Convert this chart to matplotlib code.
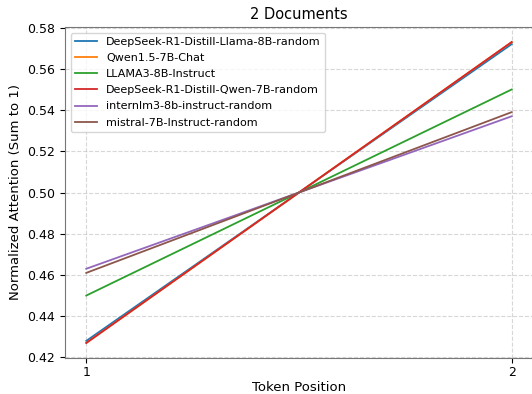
import numpy as np
import matplotlib.pyplot as plt

positions = [1, 2]
models = ["DeepSeek-R1-Distill-Llama-8B-random",
          "Qwen1.5-7B-Chat",
          "LLAMA3-8B-Instruct",
          "DeepSeek-R1-Distill-Qwen-7B-random",
          "internlm3-8b-instruct-random",
          "mistral-7B-Instruct-random"]
first_pos = [0.428, 0.427, 0.450, 0.427, 0.463, 0.461]
second_pos = [0.572, 0.573, 0.550, 0.573, 0.537, 0.539]

fig = plt.figure(figsize=(5.32, 3.94), dpi=100)
ax = fig.add_axes([65/532, 36/394, 468/532, 331/394])

for name, a, b in zip(models, first_pos, second_pos):
    ax.plot(positions, [a, b], label=name, linewidth=1.3)

ax.set_xticks(positions)
ax.tick_params(labelsize=9)
ax.tick_params(axis="x", pad=2.5)
ax.set_title("2 Documents", fontsize=10.5)
ax.set_xlabel("Token Position", fontsize=9.5, labelpad=1)
ax.set_ylabel("Normalized Attention (Sum to 1)", fontsize=9.5)
ax.grid(True, linestyle="--", alpha=0.5)
for s in ax.spines.values():
    s.set_color("#777777")
ax.legend(loc="upper left", fontsize=8, labelspacing=0.55)

fig.savefig("out.png", dpi=100)
